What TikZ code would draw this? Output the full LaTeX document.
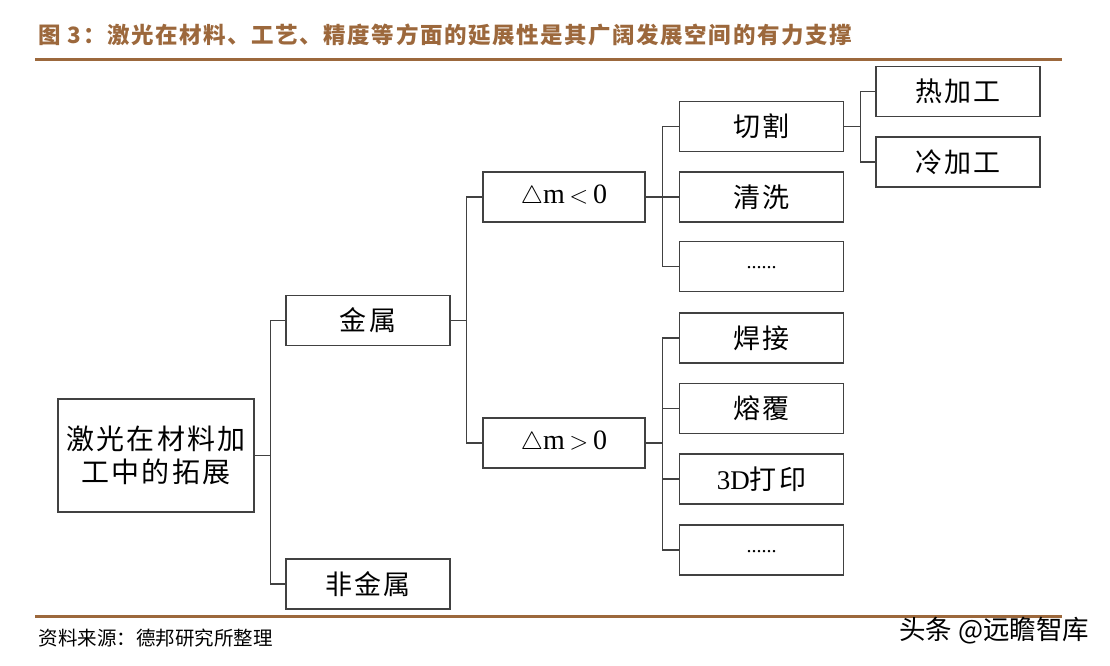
\documentclass[tikz,border=0pt]{standalone}
\usepackage{fontspec}
\setmainfont{Liberation Serif}
\newfontfamily\cjk{Noto Sans CJK SC}
\newfontfamily\cjkwide[LetterSpace=8]{Noto Sans CJK SC}
\newfontfamily\cjktitle[LetterSpace=7]{Noto Sans CJK SC}
\definecolor{rulebrown}{RGB}{156,104,60}
\definecolor{linegray}{RGB}{65,65,65}

\begin{document}
\begin{tikzpicture}[x=1pt,y=-1pt,
    box/.style={draw=linegray, line width=1.3pt, minimum width=164pt, minimum height=50pt,
                inner sep=0pt, font=\cjkwide\fontsize{27}{32}\selectfont},
    link/.style={draw=linegray, line width=1.3pt}]
    \useasboundingbox (0,0) rectangle (1110,665);

    % header and footer
    \node[anchor=west, text=rulebrown, font=\cjktitle\bfseries\fontsize{22.5}{26}\selectfont] (title) at (35,35)
        {图 3：激光在材料、工艺、精度等方面的延展性是其广阔发展空间的有力支撑};
    \draw [rulebrown, line width=3pt] (35,59) -- (1062,59);
    \draw [rulebrown, line width=3pt] (35,616) -- (1062,616);
    \node[anchor=west, font=\cjk\fontsize{19.5}{22}\selectfont] (source) at (35,638) {资料来源：德邦研究所整理};
    \node[anchor=east, font=\cjk\fontsize{26.5}{28}\selectfont] (mark) at (1093,631) {头条 @远瞻智库};

    % boxes
    \node[box, minimum width=196pt, minimum height=113pt, align=center, font=\cjkwide\fontsize{28}{33}\selectfont]
        (root) at (156,455.5) {激光在材料加\\工中的拓展};
    \node[box] (metal) at (368,320.5) {金属};
    \node[box] (nonmetal) at (368,584) {非金属};
    \node[box, minimum width=162pt] (neg) at (564,197) {\fontsize{28}{32}\selectfont\rmfamily$\triangle$m\,$<$\,0};
    \node[box, minimum width=162pt] (pos) at (564,443) {\fontsize{28}{32}\selectfont\rmfamily$\triangle$m\,$>$\,0};
    \node[box] (cut) at (761.5,126.5) {切割};
    \node[box] (clean) at (761.5,197) {清洗};
    \node[box] (moreA) at (761.5,266.5) {\rmfamily\fontsize{20}{24}\selectfont\raisebox{-5pt}{......}};
    \node[box] (weld) at (761.5,338) {焊接};
    \node[box] (clad) at (761.5,408.5) {熔覆};
    \node[box] (print) at (761.5,479) {{\rmfamily 3D}打印};
    \node[box] (moreB) at (761.5,550) {\rmfamily\fontsize{20}{24}\selectfont\raisebox{-5pt}{......}};
    \node[box] (hot) at (958,91.5) {热加工};
    \node[box] (cold) at (958,162) {冷加工};

    % connectors
    \foreach \kid in {metal,nonmetal}
        \draw [link] (root.east) -- +(16,0) |- (\kid.west);
    \foreach \kid in {neg,pos}
        \draw [link] (metal.east) -- +(16,0) |- (\kid.west);
    \foreach \kid in {cut,clean,moreA}
        \draw [link] (neg.east) -- +(17,0) |- (\kid.west);
    \foreach \kid in {weld,clad,print,moreB}
        \draw [link] (pos.east) -- +(17,0) |- (\kid.west);
    \foreach \kid in {hot,cold}
        \draw [link] (cut.east) -- +(16,0) |- (\kid.west);
\end{tikzpicture}
\end{document}
